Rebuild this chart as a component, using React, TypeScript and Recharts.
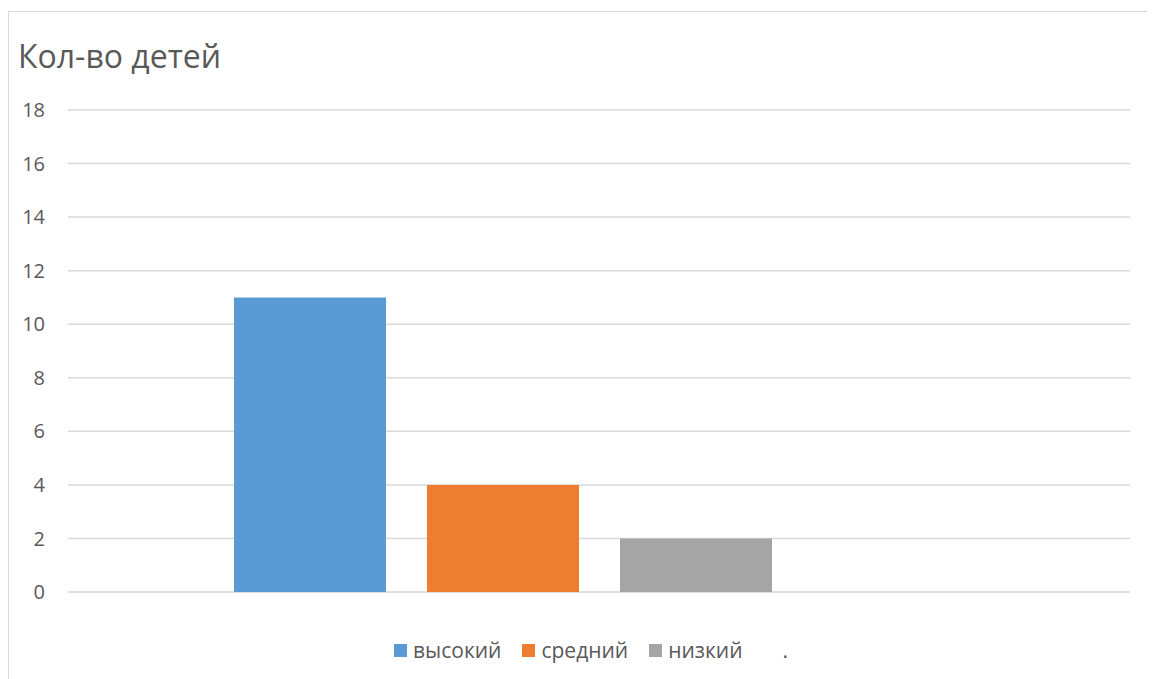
import { Bar, BarChart, CartesianGrid, XAxis, YAxis } from "recharts";

// Chart data
const title = "Кол-во детей";
const categories = [""];
const seriesNames = ["высокий", "средний", "низкий", "."];
const seriesValues = [11, 4, 2, 0];
const seriesColors = ["#5B9BD5", "#ED7D31", "#A5A5A5", "none"];
const yTicks = [0, 2, 4, 6, 8, 10, 12, 14, 16, 18];

const FONT = "'Open Sans', 'Noto Sans', sans-serif";
const TEXT = "#595959";

const data = categories.map((c) => {
  const row: Record<string, string | number> = { name: c };
  seriesNames.forEach((_, i) => {
    row[`s${i}`] = seriesValues[i];
  });
  return row;
});

// Excel-style legend under the plot
function LegendRow() {
  return (
    <div
      style={{
        position: "absolute",
        left: 385,
        top: 624,
        display: "flex",
        alignItems: "center",
        fontFamily: FONT,
        fontSize: 21,
        lineHeight: "28px",
        color: TEXT,
        whiteSpace: "nowrap",
      }}
    >
      {seriesNames.map((n, i) => (
        <div key={n} style={{ display: "flex", alignItems: "center", marginRight: 21 }}>
          <span
            style={{
              display: "inline-block",
              width: 13,
              height: 13,
              background: seriesColors[i] === "none" ? "transparent" : seriesColors[i],
              marginRight: 6,
            }}
          />
          <span>{n}</span>
        </div>
      ))}
    </div>
  );
}

export default function App() {
  return (
    <div
      style={{
        position: "relative",
        marginTop: 3,
        width: 1146,
        height: 667,
        borderLeft: "1px solid #d9d9d9",
        borderTop: "1px solid #d9d9d9",
        overflow: "hidden",
        fontFamily: FONT,
      }}
    >
      {/* Title */}
      <div
        style={{
          position: "absolute",
          left: 9,
          top: 28,
          fontSize: 32,
          lineHeight: "32px",
          color: TEXT,
          whiteSpace: "nowrap",
        }}
      >
        {title}
      </div>
      <BarChart
        width={1146}
        height={667}
        data={data}
        margin={{ top: 98, right: 25, bottom: 87, left: 0 }}
        barSize={152}
        barGap={41}
      >
        <CartesianGrid vertical={false} stroke="#d9d9d9" strokeWidth={1.5} />
        <XAxis dataKey="name" hide />
        <YAxis
          width={59}
          domain={[0, 18]}
          ticks={yTicks}
          axisLine={false}
          tickLine={false}
          tickMargin={17}
          tick={{ fill: TEXT, fontSize: 20, fontFamily: FONT }}
          interval={0}
        />
        {seriesNames.map((n, i) => (
          <Bar
            key={n}
            dataKey={`s${i}`}
            name={n}
            fill={seriesColors[i]}
            isAnimationActive={false}
          />
        ))}
      </BarChart>
      <LegendRow />
    </div>
  );
}
